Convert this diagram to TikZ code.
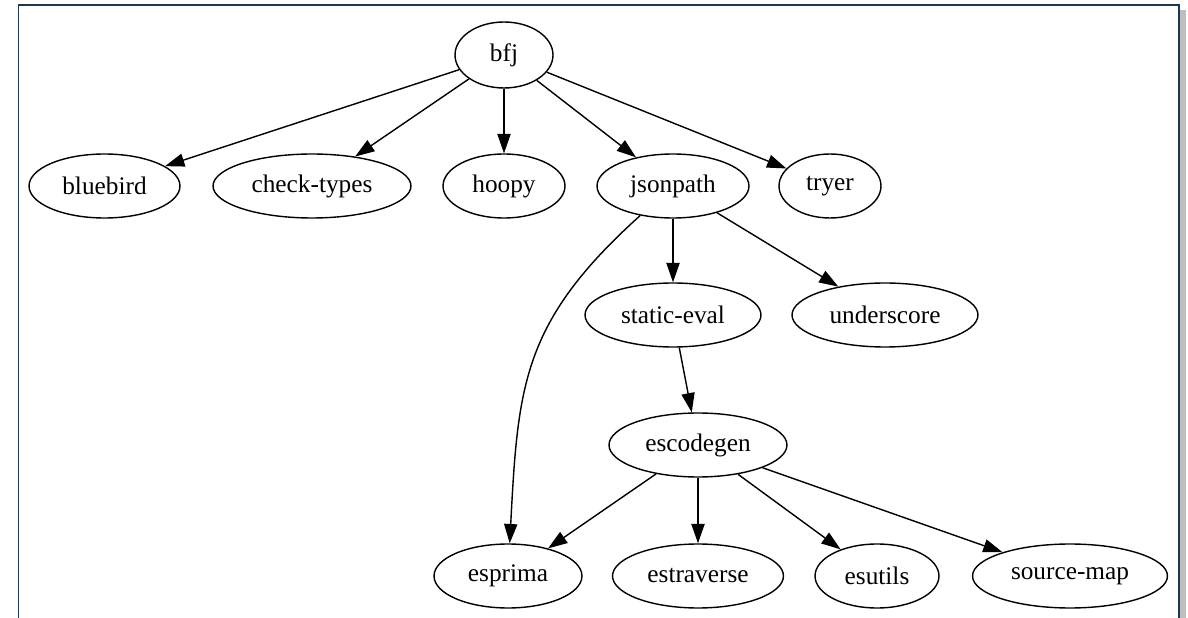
\documentclass[tikz,border=0pt]{standalone}
\usepackage{fontspec}
\setmainfont{Liberation Serif}
\usepackage{tikz}
\usetikzlibrary{arrows.meta,shapes.geometric,positioning}
\definecolor{framecol}{RGB}{28,56,76}

\begin{document}
\begin{tikzpicture}[x=0.02cm,y=-0.02cm,
>={Triangle[length=11pt,width=7.5pt]},->,line width=0.8pt,
pkg/.style={ellipse, draw, inner sep=0pt, minimum height=1.28cm, font=\fontsize{14.4}{17}\selectfont}]
\useasboundingbox (0,0) rectangle (1188,618);
% frame with shadow on the right
\fill[black!25] (1180,10) rectangle (1186,618);
\draw[-,framecol,line width=1.1pt] (18.5,618) -- (18.5,5) -- (1179,5) -- (1179,618);

\node (bfj) at (504,55) [pkg, minimum width=1.96cm, minimum height=1.32cm] {bfj};
\node (bluebird) at (104.5,186) [pkg, minimum width=3.02cm] {bluebird};
\node (checktypes) at (312,186) [pkg, minimum width=3.96cm] {check-types};
\node (hoopy) at (504,186) [pkg, minimum width=2.44cm] {hoopy};
\node (jsonpath) at (673,186) [pkg, minimum width=3.04cm] {jsonpath};
\node (tryer) at (830,186) [pkg, minimum width=2.04cm] {tryer};
\node (staticeval) at (673,315) [pkg, minimum width=3.52cm] {static-eval};
\node (underscore) at (885,315) [pkg, minimum width=3.72cm] {underscore};
\node (escodegen) at (698,445) [pkg, minimum width=3.56cm] {escodegen};
\node (esprima) at (508,576) [pkg, minimum width=2.96cm] {esprima};
\node (estraverse) at (698,576) [pkg, minimum width=3.42cm] {estraverse};
\node (esutils) at (877,576) [pkg, minimum width=2.48cm] {esutils};
\node (sourcemap) at (1070,576) [pkg, minimum width=3.9cm] {source-map};

\draw (bfj)--(bluebird);
\draw (bfj)--(checktypes);
\draw (bfj)--(hoopy);
\draw (bfj)--(jsonpath);
\draw (bfj)--(tryer);
\draw (jsonpath)--(staticeval);
\draw (jsonpath)--(underscore);
\draw (jsonpath) to[out=-138,in=87,looseness=1.15] (esprima);
\draw (staticeval)--(escodegen);
\draw (escodegen)--(esprima);
\draw (escodegen)--(estraverse);
\draw (escodegen)--(esutils);
\draw (escodegen)--(sourcemap);
\end{tikzpicture}
\end{document}
